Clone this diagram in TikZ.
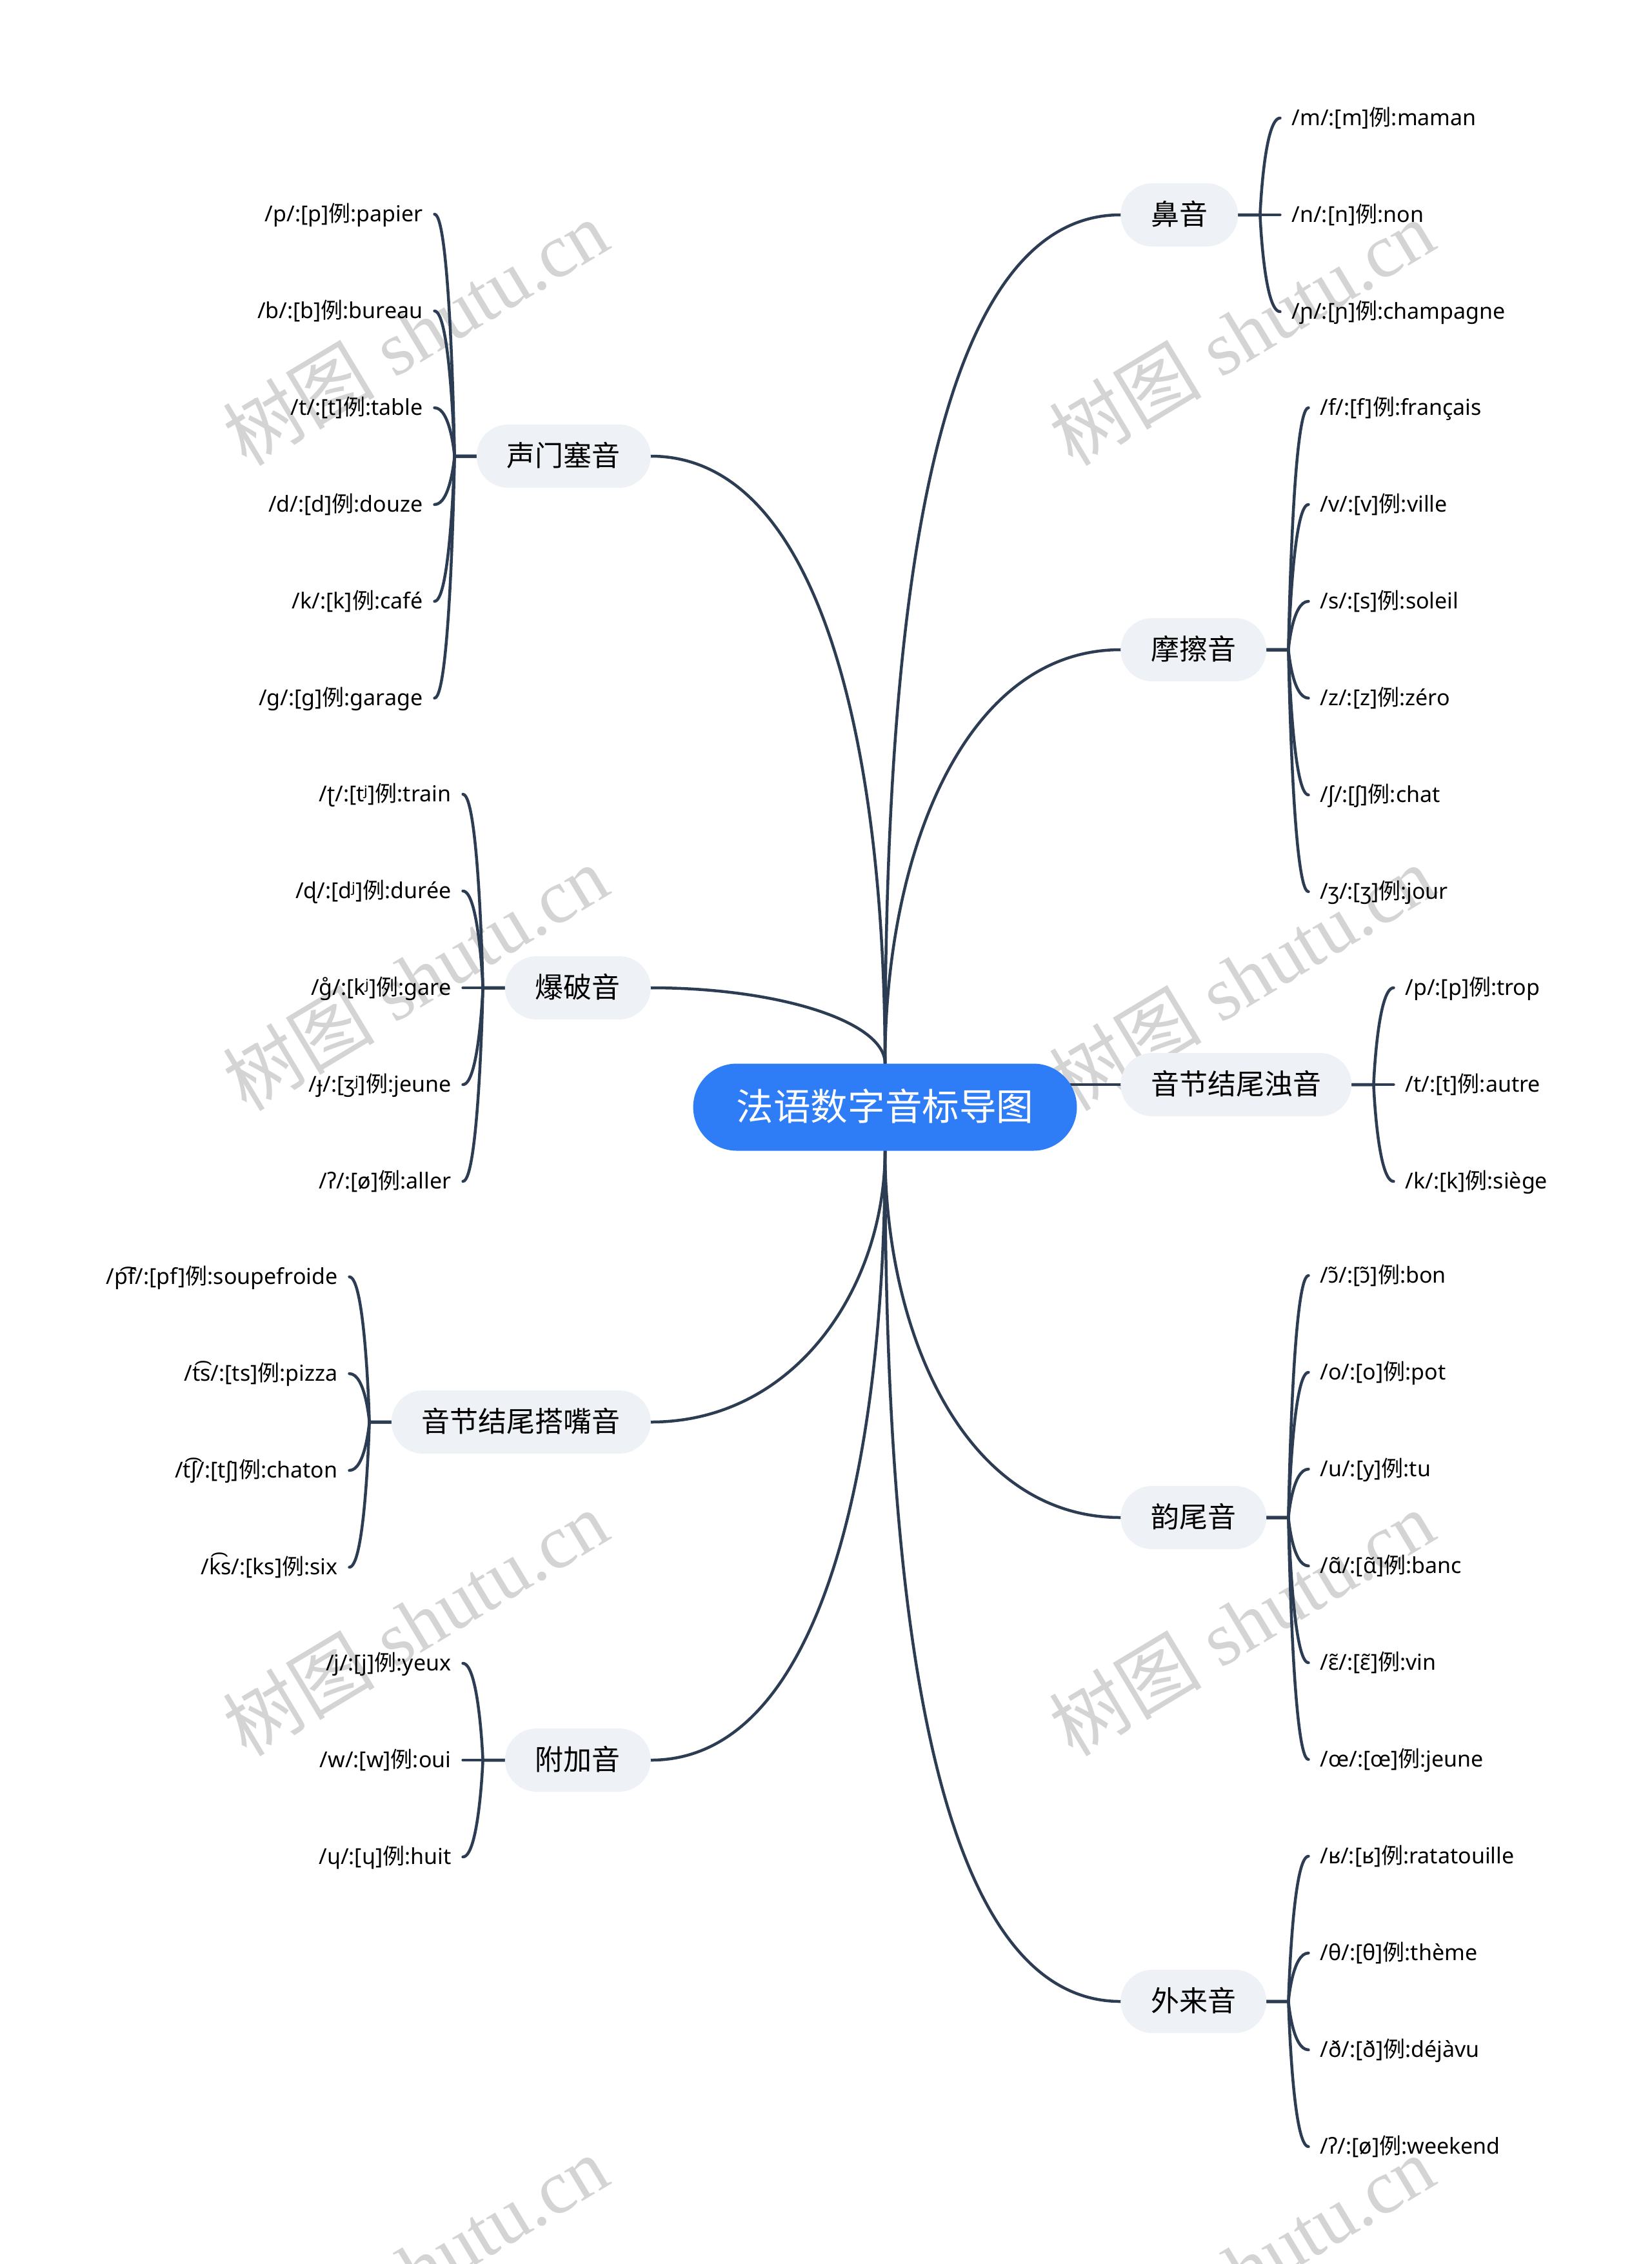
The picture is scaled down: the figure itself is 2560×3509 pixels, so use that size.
\documentclass[tikz,border=0pt]{standalone}
\usepackage{fontspec}
\setmainfont{Noto Sans}
\newfontfamily\cjk{Noto Sans CJK SC}
\newfontfamily\wmserif{Liberation Serif}
\usetikzlibrary{calc}
\definecolor{linec}{RGB}{44,60,82}
\definecolor{topicbg}{RGB}{238,241,245}
\definecolor{rootbg}{RGB}{47,125,246}
\definecolor{wmgray}{RGB}{212,212,212}
\newcommand\lizi{{\cjk 例}}
\pgfdeclarelayer{wm}
\pgfdeclarelayer{bg}
\pgfsetlayers{wm,bg,main}
\begin{document}
\begin{tikzpicture}[x=1pt,y=-1pt,
  conn/.style={draw=linec, line width=4.5pt, line cap=round},
  root/.style={fill=rootbg, text=white, rounded corners=67.5pt, minimum height=135pt, inner xsep=67pt, inner ysep=0pt, font=\cjk\fontsize{57.6}{60}\selectfont, text height=49.5pt, text depth=8.1pt},
  topic/.style={fill=topicbg, text=black, rounded corners=49pt, minimum height=98pt, inner xsep=47pt, inner ysep=0pt, font=\cjk\fontsize{44}{48}\selectfont, text height=37.8pt, text depth=6.2pt},
  leafR/.style={anchor=west, inner xsep=18pt, inner ysep=0pt, text=black, font=\fontsize{34}{40}\selectfont, text height=28.2pt, text depth=5.8pt},
  leafL/.style={leafR, anchor=east},
  wmark/.style={text=wmgray, rotate=31, font=\fontsize{118}{130}\selectfont}
]
\useasboundingbox (0,0) rectangle (2560,3509);

% ---------- watermark ----------
\begin{pgfonlayer}{wm}
\fill[white] (0,0) rectangle (2560,3509);
\begin{scope}
\clip (0,0) rectangle (2560,3509);
\foreach \y in {515,1515,2515,3515} {
  \node[wmark] (wmL\y) at (644,\y) {{\cjk 树图} {\wmserif shutu.cn}};
  \node[wmark] (wmR\y) at (1925,\y) {{\cjk 树图} {\wmserif shutu.cn}};
}
\end{scope}
\end{pgfonlayer}

% ---------- nodes ----------
\node[root] (C) at (1372,1716) {法语数字音标导图};

\node[topic, anchor=west] (nose) at (1737,333) {鼻音};
\node[topic, anchor=west] (fric) at (1737,1007) {摩擦音};
\node[topic, anchor=west] (voiced) at (1737,1681) {音节结尾浊音};
\node[topic, anchor=west] (rhyme) at (1737,2352) {韵尾音};
\node[topic, anchor=west] (foreign) at (1737,3102) {外来音};

\node[topic, anchor=east] (glottal) at (1009,707) {声门塞音};
\node[topic, anchor=east] (plosive) at (1009,1531) {爆破音};
\node[topic, anchor=east] (click) at (1009,2204) {音节结尾搭嘴音};
\node[topic, anchor=east] (extra) at (1009,2728) {附加音};

% spines
\foreach \b in {nose,fric,voiced,rhyme,foreign}
  \coordinate (\b S) at ($(\b.east)+(34,0)$);
\foreach \b in {glottal,plosive,click,extra}
  \coordinate (\b S) at ($(\b.west)+(-34,0)$);

% ---------- leaves right ----------
\node[leafR] (nose1) at ($(nose.east)+(65,-150)$) {/m/:[m]\lizi:maman};
\node[leafR] (nose2) at ($(nose.east)+(65,0)$) {/n/:[n]\lizi:non};
\node[leafR] (nose3) at ($(nose.east)+(65,150)$) {/ɲ/:[ɲ]\lizi:champagne};

\node[leafR] (fric1) at ($(fric.east)+(65,-375)$) {/f/:[f]\lizi:français};
\node[leafR] (fric2) at ($(fric.east)+(65,-225)$) {/v/:[v]\lizi:ville};
\node[leafR] (fric3) at ($(fric.east)+(65,-75)$) {/s/:[s]\lizi:soleil};
\node[leafR] (fric4) at ($(fric.east)+(65,75)$) {/z/:[z]\lizi:zéro};
\node[leafR] (fric5) at ($(fric.east)+(65,225)$) {/ʃ/:[ʃ]\lizi:chat};
\node[leafR] (fric6) at ($(fric.east)+(65,375)$) {/ʒ/:[ʒ]\lizi:jour};

\node[leafR] (voiced1) at ($(voiced.east)+(65,-150)$) {/p/:[p]\lizi:trop};
\node[leafR] (voiced2) at ($(voiced.east)+(65,0)$) {/t/:[t]\lizi:autre};
\node[leafR] (voiced3) at ($(voiced.east)+(65,150)$) {/k/:[k]\lizi:siège};

\node[leafR] (rhyme1) at ($(rhyme.east)+(65,-375)$) {/ɔ̃/:[ɔ̃]\lizi:bon};
\node[leafR] (rhyme2) at ($(rhyme.east)+(65,-225)$) {/o/:[o]\lizi:pot};
\node[leafR] (rhyme3) at ($(rhyme.east)+(65,-75)$) {/u/:[y]\lizi:tu};
\node[leafR] (rhyme4) at ($(rhyme.east)+(65,75)$) {/ɑ̃/:[ɑ̃]\lizi:banc};
\node[leafR] (rhyme5) at ($(rhyme.east)+(65,225)$) {/ɛ̃/:[ɛ̃]\lizi:vin};
\node[leafR] (rhyme6) at ($(rhyme.east)+(65,375)$) {/œ/:[œ]\lizi:jeune};

\node[leafR] (foreign1) at ($(foreign.east)+(65,-225)$) {/ʁ/:[ʁ]\lizi:ratatouille};
\node[leafR] (foreign2) at ($(foreign.east)+(65,-75)$) {/θ/:[θ]\lizi:thème};
\node[leafR] (foreign3) at ($(foreign.east)+(65,75)$) {/ð/:[ð]\lizi:déjàvu};
\node[leafR] (foreign4) at ($(foreign.east)+(65,225)$) {/ʔ/:[ø]\lizi:weekend};

% ---------- leaves left ----------
\node[leafL] (glottal1) at ($(glottal.west)+(-65,-375)$) {/p/:[p]\lizi:papier};
\node[leafL] (glottal2) at ($(glottal.west)+(-65,-225)$) {/b/:[b]\lizi:bureau};
\node[leafL] (glottal3) at ($(glottal.west)+(-65,-75)$) {/t/:[t]\lizi:table};
\node[leafL] (glottal4) at ($(glottal.west)+(-65,75)$) {/d/:[d]\lizi:douze};
\node[leafL] (glottal5) at ($(glottal.west)+(-65,225)$) {/k/:[k]\lizi:café};
\node[leafL] (glottal6) at ($(glottal.west)+(-65,375)$) {/g/:[g]\lizi:garage};

\node[leafL] (plosive1) at ($(plosive.west)+(-65,-300)$) {/ʈ/:[tʲ]\lizi:train};
\node[leafL] (plosive2) at ($(plosive.west)+(-65,-150)$) {/ɖ/:[dʲ]\lizi:durée};
\node[leafL] (plosive3) at ($(plosive.west)+(-65,0)$) {/g̊/:[kʲ]\lizi:gare};
\node[leafL] (plosive4) at ($(plosive.west)+(-65,150)$) {/ɟ/:[ʒʲ]\lizi:jeune};
\node[leafL] (plosive5) at ($(plosive.west)+(-65,300)$) {/ʔ/:[ø]\lizi:aller};

\node[leafL] (click1) at ($(click.west)+(-65,-225)$) {/p͡f/:[pf]\lizi:soupefroide};
\node[leafL] (click2) at ($(click.west)+(-65,-75)$) {/t͡s/:[ts]\lizi:pizza};
\node[leafL] (click3) at ($(click.west)+(-65,75)$) {/t͡ʃ/:[tʃ]\lizi:chaton};
\node[leafL] (click4) at ($(click.west)+(-65,225)$) {/k͡s/:[ks]\lizi:six};

\node[leafL] (extra1) at ($(extra.west)+(-65,-150)$) {/j/:[j]\lizi:yeux};
\node[leafL] (extra2) at ($(extra.west)+(-65,0)$) {/w/:[w]\lizi:oui};
\node[leafL] (extra3) at ($(extra.west)+(-65,150)$) {/ɥ/:[ɥ]\lizi:huit};

% ---------- connectors ----------
\begin{pgfonlayer}{bg}
% root to topics
\draw[conn] (C.north) .. controls ($(C.north)!0.5!(C.north |- nose.west)$) and ($(C.north |- nose.west)!0.17!(nose.west)$) .. (nose.west);
\draw[conn] (C.north) .. controls ($(C.north)!0.5!(C.north |- fric.west)$) and ($(C.north |- fric.west)!0.33!(fric.west)$) .. (fric.west);
\draw[conn] (C.center |- voiced.west) -- (voiced.west);
\draw[conn] (C.south) .. controls ($(C.south)!0.5!(C.south |- rhyme.west)$) and ($(C.south |- rhyme.west)!0.34!(rhyme.west)$) .. (rhyme.west);
\draw[conn] (C.south) .. controls ($(C.south)!0.5!(C.south |- foreign.west)$) and ($(C.south |- foreign.west)!0.17!(foreign.west)$) .. (foreign.west);
\draw[conn] (C.north) .. controls ($(C.north)!0.5!(C.north |- glottal.east)$) and ($(C.north |- glottal.east)!0.26!(glottal.east)$) .. (glottal.east);
\draw[conn] (C.north) .. controls ($(C.north)!0.55!(C.north |- plosive.east)$) and ($(C.north |- plosive.east)!0.45!(plosive.east)$) .. (plosive.east);
\draw[conn] (C.south) .. controls ($(C.south)!0.5!(C.south |- click.east)$) and ($(C.south |- click.east)!0.38!(click.east)$) .. (click.east);
\draw[conn] (C.south) .. controls ($(C.south)!0.5!(C.south |- extra.east)$) and ($(C.south |- extra.east)!0.26!(extra.east)$) .. (extra.east);

% topics to leaves (right)
\foreach \b/\n in {nose/3,fric/6,voiced/3,rhyme/6,foreign/4}
  \foreach \i in {1,...,\n}
    \draw[conn] (\b.east) -- (\b S) .. controls (\b S) and ($(\b S |- \b\i.west)+(6,0)$) .. (\b\i.west);
% topics to leaves (left)
\foreach \b/\n in {glottal/6,plosive/5,click/4,extra/3}
  \foreach \i in {1,...,\n}
    \draw[conn] (\b.west) -- (\b S) .. controls (\b S) and ($(\b S |- \b\i.east)+(-6,0)$) .. (\b\i.east);
\end{pgfonlayer}
\end{tikzpicture}
\end{document}
